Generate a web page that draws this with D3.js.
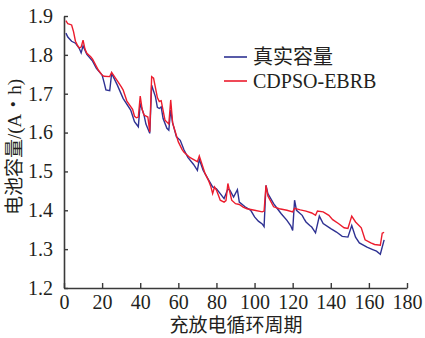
<!DOCTYPE html>
<html>
<head>
<meta charset="utf-8">
<script src="https://cdn.jsdelivr.net/npm/d3@7"></script>
<style>
  body { margin: 0; background: #fff; }
  text { font-family: "Liberation Serif", "Noto Sans CJK SC", serif; fill: #231f20; }
</style>
</head>
<body>
<svg id="chart" width="425" height="338"></svg>
<script>
// DATA (cycle, capacity)
var realCycles = [1, 2, 4, 6, 8, 9, 10, 12, 15, 17, 20, 21, 22, 24, 25, 28, 31, 35, 37, 39, 40, 42, 43, 45,
  46, 48, 49, 50, 51, 52, 54, 55, 56, 57, 59, 61, 63, 65, 68, 70, 71, 73, 76, 78, 80, 82, 84, 86, 87, 89,
  91, 92, 95, 98, 100, 102, 104, 105, 106, 107, 110, 112, 114, 117, 119, 120, 121, 122, 125, 126, 127, 129,
  130, 132, 134, 136, 140, 143, 146, 149, 151, 153, 155, 159, 162, 164, 166, 168];
var realCap = [1.856, 1.846, 1.835, 1.830, 1.817, 1.805, 1.823, 1.801, 1.784, 1.765, 1.748, 1.730, 1.710, 1.708,
  1.752, 1.722, 1.688, 1.658, 1.628, 1.615, 1.675, 1.645, 1.622, 1.598,
  1.722, 1.692, 1.665, 1.662, 1.666, 1.636, 1.611, 1.606, 1.658, 1.625, 1.589, 1.580, 1.555, 1.536, 1.518, 1.503,
  1.531, 1.503, 1.477, 1.460, 1.455, 1.443, 1.430, 1.455, 1.452, 1.434,
  1.453, 1.421, 1.409, 1.400, 1.383, 1.372, 1.365, 1.358, 1.464, 1.443, 1.417, 1.404, 1.391, 1.374, 1.360, 1.348,
  1.426, 1.400, 1.387, 1.378, 1.370, 1.361,
  1.357, 1.342, 1.385, 1.366, 1.353, 1.344, 1.333, 1.331, 1.361, 1.331, 1.316, 1.305, 1.299, 1.295, 1.287, 1.324];

var predCycles = [1, 2, 4, 5, 6, 7, 8, 9, 10, 11, 12, 14, 15, 18, 20, 21, 24, 25, 28, 30, 31, 33, 36, 37, 38, 39,
  40, 41, 42, 44, 45, 46, 47, 49, 50, 51, 53, 55, 56, 57, 60, 62, 63, 66, 69, 70, 71, 74, 76, 77, 78, 79, 80,
  82, 84, 85, 86, 88, 90, 92, 94, 96, 100, 104, 105, 106, 107, 110, 113, 117, 120, 121, 124, 127, 130, 132,
  133, 136, 139, 141, 144, 147, 149, 151, 153, 156, 158, 161, 163, 166, 167, 168];
var predCap = [1.888, 1.880, 1.877, 1.860, 1.835, 1.825, 1.818, 1.820, 1.838, 1.815, 1.804, 1.795, 1.789, 1.761,
  1.748, 1.745, 1.744, 1.755, 1.733, 1.718, 1.710, 1.681, 1.660, 1.642, 1.638, 1.640,
  1.694, 1.660, 1.645, 1.640, 1.602, 1.744, 1.740, 1.690, 1.680, 1.682, 1.632, 1.622, 1.684, 1.625, 1.576, 1.556,
  1.549, 1.536, 1.528, 1.525, 1.540, 1.495, 1.475, 1.462, 1.443, 1.460, 1.452,
  1.426, 1.421, 1.425, 1.469, 1.426, 1.417, 1.415, 1.408, 1.404, 1.400, 1.396, 1.398, 1.464, 1.437, 1.409, 1.404,
  1.400, 1.396, 1.405, 1.401, 1.398, 1.393, 1.387,
  1.398, 1.396, 1.387, 1.376, 1.366, 1.355, 1.353, 1.385, 1.370, 1.355, 1.324, 1.316, 1.312, 1.310, 1.341, 1.343];

var xTicks = [0, 20, 40, 60, 80, 100, 120, 140, 160, 180];
var yTicks = [1.2, 1.3, 1.4, 1.5, 1.6, 1.7, 1.8, 1.9];
var seriesNames = ['真实容量', 'CDPSO-EBRB'];
var seriesColors = ['#2e3192', '#ec1c2d'];

var svg = d3.select('#chart');
// plot box (don't call it top -- window.top is taken)
var plotLeft = 64, plotRight = 407, plotTop = 16, plotBottom = 288;

var x = d3.scaleLinear().domain([0, 180]).range([plotLeft, plotRight]);
var y = d3.scaleLinear().domain([1.2, 1.9]).range([plotBottom, plotTop]);

// axes, ticks pointing inwards
var xAxis = svg.append('g')
  .attr('transform', 'translate(0,' + plotBottom + ')')
  .call(d3.axisBottom(x).tickValues(xTicks).tickSizeInner(-5).tickSizeOuter(0).tickPadding(7));
var yAxis = svg.append('g')
  .attr('transform', 'translate(' + plotLeft + ',0)')
  .call(d3.axisLeft(y).tickValues(yTicks).tickFormat(d3.format('.1f')).tickSizeInner(-4).tickSizeOuter(0).tickPadding(11));

[xAxis, yAxis].forEach(function(a){
  a.select('.domain').attr('stroke', '#3a3a3a').attr('stroke-width', 1.6);
  a.selectAll('.tick line').attr('stroke', '#3a3a3a').attr('stroke-width', 1.4);
  a.selectAll('.tick text').attr('font-size', 20).attr('fill', '#231f20')
    .style('font-family', '"Liberation Serif", serif');
});
xAxis.selectAll('.tick text').attr('dy', '0.71em');

var line = d3.line()
  .x(function(d){ return x(d[0]); })
  .y(function(d){ return y(d[1]); });

var realData = d3.zip(realCycles, realCap);
var predData = d3.zip(predCycles, predCap);

svg.append('path').datum(realData)
  .attr('d', line).attr('fill', 'none')
  .attr('stroke', seriesColors[0]).attr('stroke-width', 1.4);
svg.append('path').datum(predData)
  .attr('d', line).attr('fill', 'none')
  .attr('stroke', seriesColors[1]).attr('stroke-width', 1.4);

// legend
var legend = svg.append('g');
seriesNames.forEach(function(name, i){
  var ly = 57 + i * 24;
  legend.append('line')
    .attr('x1', 224).attr('x2', 247).attr('y1', ly).attr('y2', ly)
    .attr('stroke', seriesColors[i]).attr('stroke-width', 1.6);
  legend.append('text')
    .attr('x', 253).attr('y', ly + 7)
    .attr('font-size', 20)
    .text(name);
});

// axis titles
svg.append('text')
  .attr('x', 236).attr('y', 332)
  .attr('text-anchor', 'middle')
  .attr('font-size', 19)
  .text('充放电循环周期');
svg.append('text')
  .attr('transform', 'translate(21,147) rotate(-90)')
  .attr('text-anchor', 'middle')
  .attr('font-size', 19)
  .text('电池容量/(A・h)');
</script>
</body>
</html>
